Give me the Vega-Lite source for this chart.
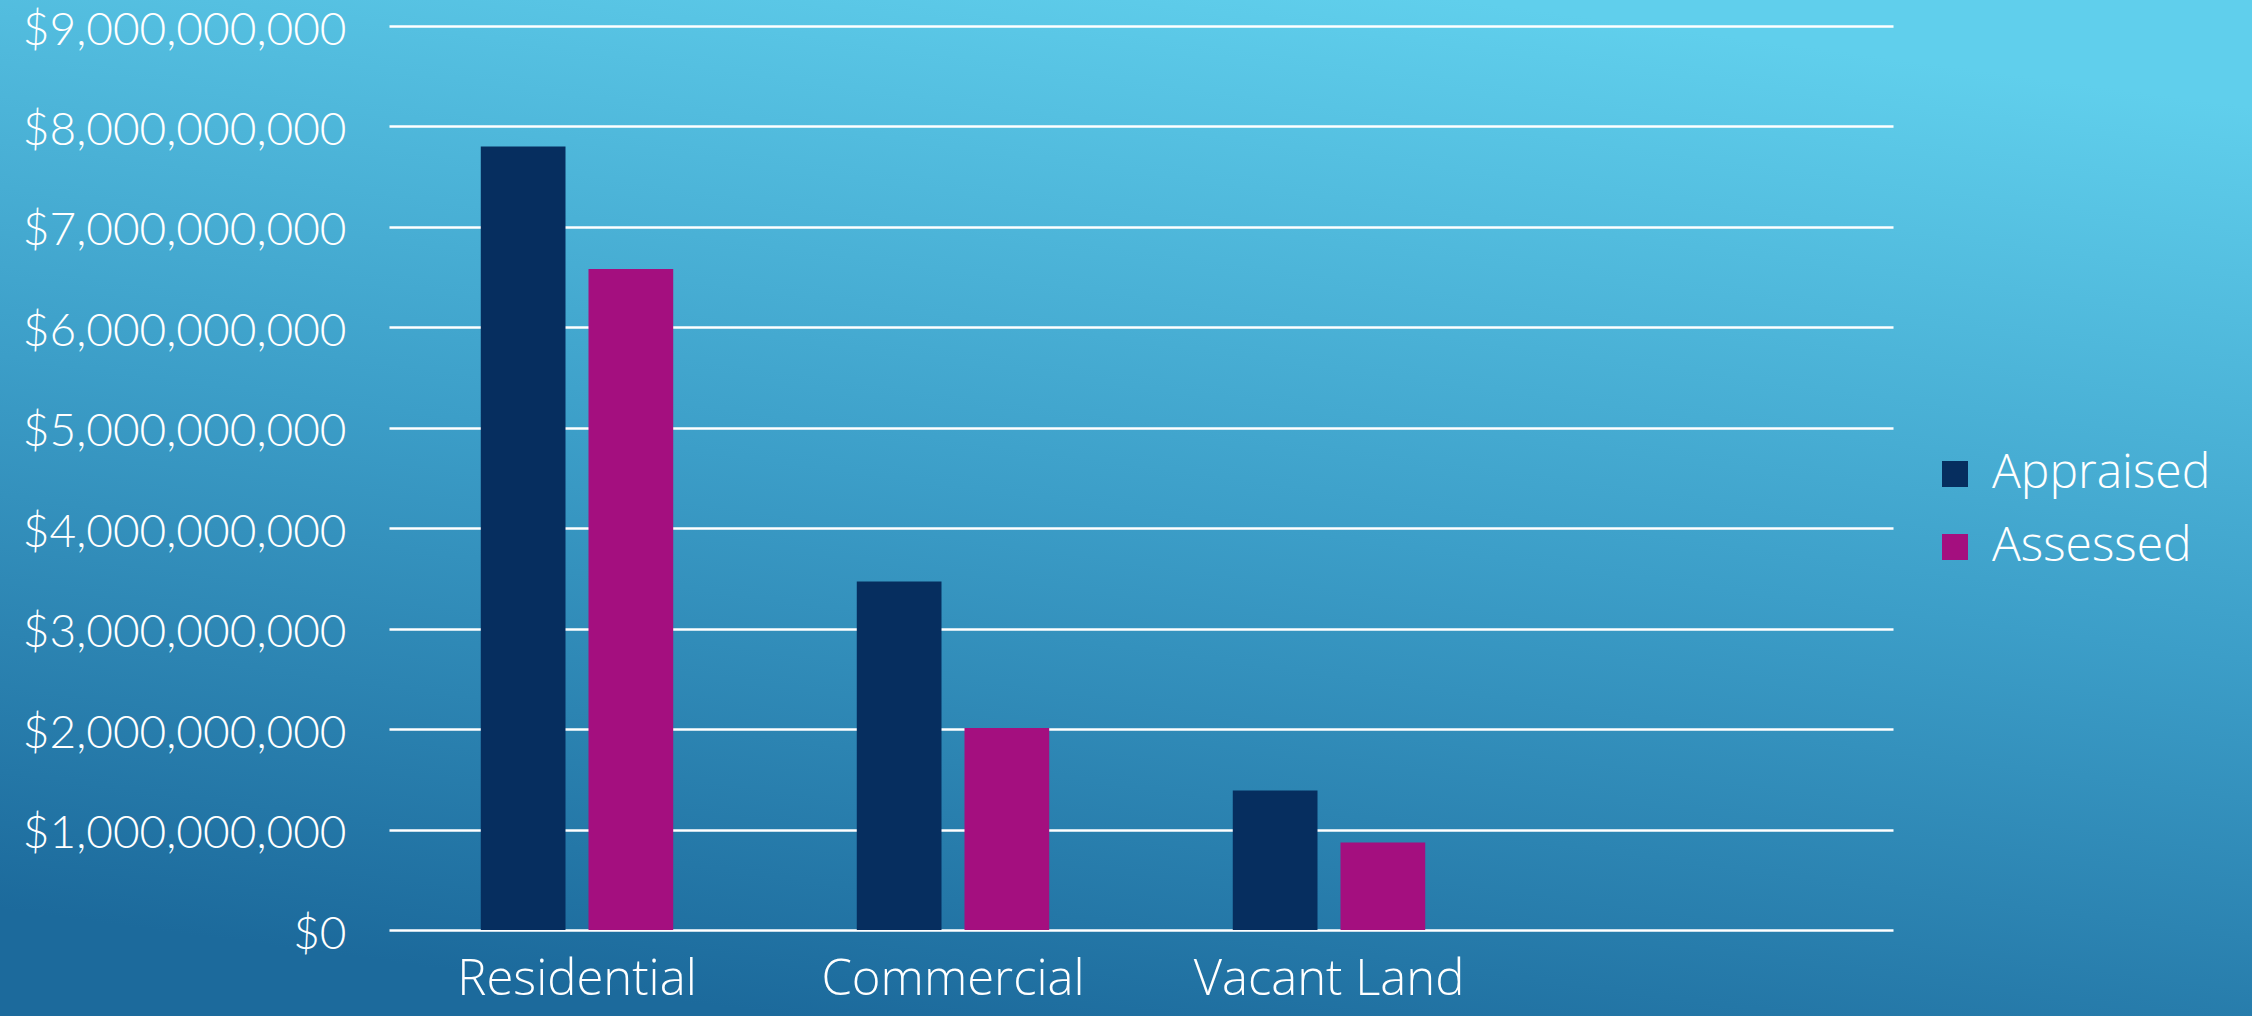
{
  "$schema": "https://vega.github.io/schema/vega-lite/v6.json",
  "width": 2252,
  "height": 1016,
  "padding": 0,
  "autosize": {"type": "none"},
  "background": "#3a9cc8",
  "view": {
    "stroke": null,
    "fill": {
      "gradient": "linear",
      "x1": 0.35, "y1": 1, "x2": 0.65, "y2": 0,
      "stops": [
        {"offset": 0, "color": "#1c6a9c"},
        {"offset": 0.5, "color": "#3c9ec8"},
        {"offset": 1, "color": "#60cfec"}
      ]
    }
  },
  "data": {
    "values": [
      {"category": "Residential", "type": "Appraised", "value": 7800000000},
      {"category": "Residential", "type": "Assessed", "value": 6580000000},
      {"category": "Commercial", "type": "Appraised", "value": 3470000000},
      {"category": "Commercial", "type": "Assessed", "value": 2010000000},
      {"category": "Vacant Land", "type": "Appraised", "value": 1390000000},
      {"category": "Vacant Land", "type": "Assessed", "value": 870000000}
    ]
  },
  "mark": {"type": "bar"},
  "encoding": {
    "x": {
      "field": "category",
      "type": "nominal",
      "sort": null,
      "scale": {
        "domain": ["Residential", "Commercial", "Vacant Land", " "],
        "range": [389, 1893],
        "paddingInner": 0,
        "paddingOuter": 0
      },
      "axis": {
        "title": null,
        "domain": false,
        "ticks": false,
        "tickSize": 0,
        "grid": false,
        "labelAngle": 0,
        "labelPadding": -12,
        "labelBaseline": "bottom",
        "labelLimit": 0,
        "labelOverlap": false,
        "labelFont": "Open Sans",
        "labelFontSize": 49,
        "labelFontWeight": 300,
        "labelColor": "#ffffff"
      }
    },
    "xOffset": {
      "field": "type",
      "type": "nominal",
      "sort": ["Appraised", "Assessed"],
      "scale": {"paddingInner": 0.2136, "paddingOuter": 0.852}
    },
    "y": {
      "field": "value",
      "type": "quantitative",
      "scale": {"domain": [0, 9000000000], "range": [930, 26], "nice": false, "zero": true},
      "axis": {
        "title": null,
        "values": [0, 1000000000, 2000000000, 3000000000, 4000000000, 5000000000, 6000000000, 7000000000, 8000000000, 9000000000],
        "format": "$,.0f",
        "grid": true,
        "gridColor": "#ffffff",
        "gridWidth": 2.5,
        "gridOpacity": 1,
        "domain": false,
        "ticks": false,
        "tickSize": 0,
        "labelPadding": -346,
        "labelAlign": "right",
        "labelBaseline": "middle",
        "labelOffset": 4,
        "labelLimit": 0,
        "labelOverlap": false,
        "labelFont": "Lato",
        "labelFontSize": 46,
        "labelFontWeight": 300,
        "labelColor": "#ffffff"
      }
    },
    "color": {
      "field": "type",
      "type": "nominal",
      "scale": {"domain": ["Appraised", "Assessed"], "range": ["#062e5f", "#a40f7f"]},
      "legend": {
        "orient": "none",
        "legendX": 1931,
        "legendY": 450,
        "title": null,
        "padding": 0,
        "symbolType": "square",
        "symbolSize": 676,
        "symbolStrokeWidth": 0,
        "symbolOpacity": 1,
        "labelLimit": 0,
        "labelFont": "Open Sans",
        "labelFontSize": 48,
        "labelFontWeight": 300,
        "labelColor": "#ffffff",
        "labelOffset": 13,
        "rowPadding": 25
      }
    }
  }
}
